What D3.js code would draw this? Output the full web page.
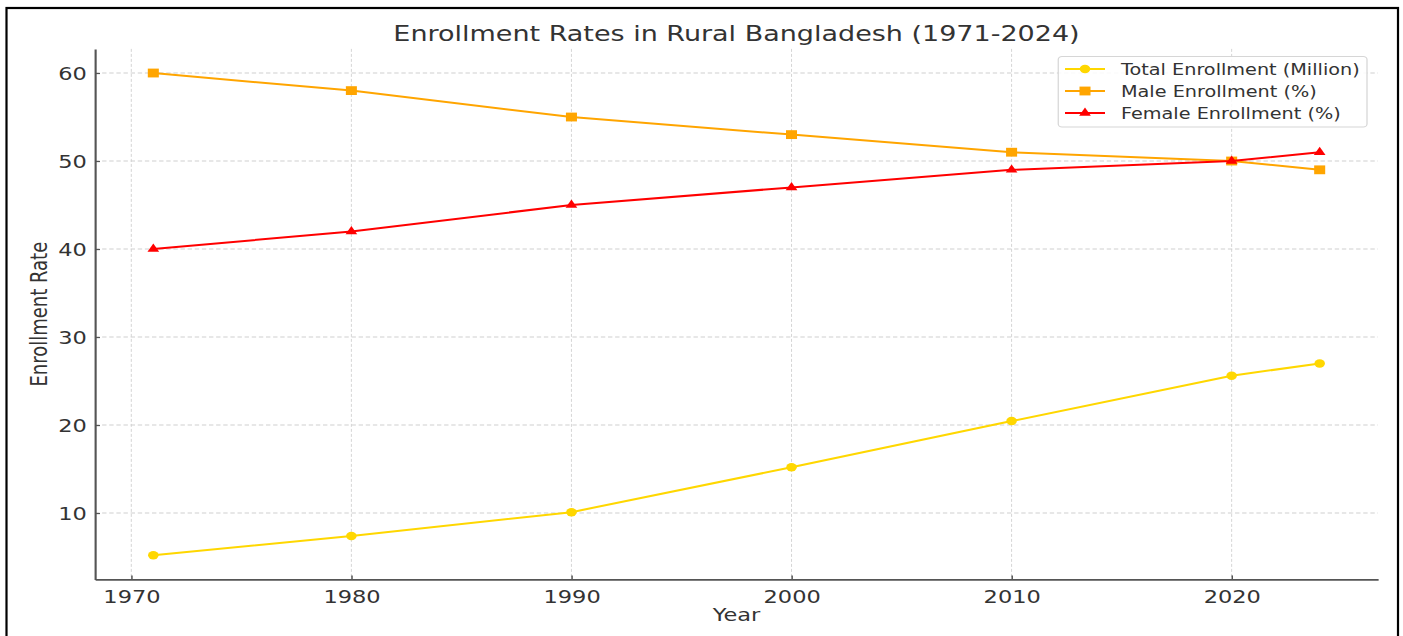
<!DOCTYPE html>
<html><head><meta charset="utf-8">
<script src="https://cdn.jsdelivr.net/npm/d3@7"></script>
<style>
body{margin:0;background:#fff}
svg text{font-family:"DejaVu Sans",sans-serif;fill:#333}
</style>
</head><body>
<svg id="c" width="1403" height="636"></svg>
<script>
// ---- data ----
const years = [1971, 1980, 1990, 2000, 2010, 2020, 2024];
const totalEnrollment = [5.2, 7.4, 10.1, 15.2, 20.45, 25.6, 27.0];
const maleEnrollment = [60, 58, 55, 53, 51, 50, 49];
const femaleEnrollment = [40, 42, 45, 47, 49, 50, 51];
const xTickValues = [1970, 1980, 1990, 2000, 2010, 2020];
const yTickValues = [10, 20, 30, 40, 50, 60];
const seriesNames = ["Total Enrollment (Million)", "Male Enrollment (%)", "Female Enrollment (%)"];
const chartTitle = "Enrollment Rates in Rural Bangladesh (1971-2024)";
const xLabel = "Year";
const yLabel = "Enrollment Rate";

// ---- layout ----
const W = 1403, H = 636;
const SX = 1.25; // horizontal stretch of the reference image
const IW = W / SX;
const m = {left: 76, right: IW - 1102.4, top: 48.9, bottom: H - 579.4};

const series = [
  {name: seriesNames[0], values: totalEnrollment, color: "#FFD700", symbol: d3.symbolCircle, size: 56},
  {name: seriesNames[1], values: maleEnrollment, color: "#FFA500", symbol: d3.symbolSquare, size: 78},
  {name: seriesNames[2], values: femaleEnrollment, color: "#FF0000", symbol: d3.symbolTriangle, size: 38}
];

const svg = d3.select("#c");
svg.append("rect").attr("width", W).attr("height", H).attr("fill", "#fff");

const g = svg.append("g").attr("transform", `scale(${SX},1)`);

const xExt = d3.extent(years);
const xPad = (xExt[1] - xExt[0]) * 0.05;
const allY = totalEnrollment.concat(maleEnrollment, femaleEnrollment);
const yExt = d3.extent(allY);
const yPad = (yExt[1] - yExt[0]) * 0.05;

const x = d3.scaleLinear().domain([xExt[0] - xPad, xExt[1] + xPad]).range([m.left, IW - m.right]);
const y = d3.scaleLinear().domain([yExt[0] - yPad, yExt[1] + yPad]).range([H - m.bottom, m.top]);

// grid
const grid = g.append("g");
grid.selectAll("line.gx").data(xTickValues).join("line")
  .attr("x1", d => x(d)).attr("x2", d => x(d))
  .attr("y1", y.range()[1]).attr("y2", y.range()[0])
  .attr("stroke", "#d0d0d0").attr("stroke-width", 0.8).attr("stroke-dasharray", "3,2");
grid.selectAll("line.gy").data(yTickValues).join("line")
  .attr("x1", x.range()[0]).attr("x2", x.range()[1])
  .attr("y1", d => y(d)).attr("y2", d => y(d))
  .attr("stroke", "#d0d0d0").attr("stroke-width", 1).attr("stroke-dasharray", "3.5,2.2");

// axes
const xAxis = g.append("g").attr("transform", `translate(0,${y.range()[0]})`)
  .call(d3.axisBottom(x).tickValues(xTickValues).tickFormat(d3.format("d")).tickSizeInner(-4).tickSizeOuter(0).tickPadding(8));
const yAxis = g.append("g").attr("transform", `translate(${x.range()[0]},0)`)
  .call(d3.axisLeft(y).tickValues(yTickValues).tickSizeInner(-4).tickSizeOuter(0).tickPadding(6.5));
[xAxis, yAxis].forEach(a => {
  a.select(".domain").attr("stroke", "#555").attr("stroke-width", 1.7);
  a.selectAll(".tick line").attr("stroke", "#555").attr("stroke-width", 1.2);
  a.selectAll(".tick text").attr("fill", "#333").style("font-size", "18px").attr("font-family", null);
});
xAxis.selectAll(".tick text").attr("dy", "0.85em");
yAxis.selectAll(".tick text").attr("dy", "0.36em");

// lines & markers
const line = d3.line().x((d, i) => x(years[i])).y(d => y(d));
series.forEach(s => {
  g.append("path").datum(s.values).attr("d", line)
    .attr("fill", "none").attr("stroke", s.color).attr("stroke-width", 2);
  g.selectAll(null).data(s.values).join("path")
    .attr("transform", (d, i) => `translate(${x(years[i])},${y(d)})`)
    .attr("d", d3.symbol().type(s.symbol).size(s.size))
    .attr("fill", s.color);
});

// titles
g.append("text").attr("x", (x.range()[0] + x.range()[1]) / 2).attr("y", 41)
  .attr("text-anchor", "middle").style("font-size", "21.6px").text(chartTitle);
g.append("text").attr("x", (x.range()[0] + x.range()[1]) / 2).attr("y", 621)
  .attr("text-anchor", "middle").style("font-size", "18px").text(xLabel);
g.append("text").attr("transform", `translate(37.4,${(y.range()[0] + y.range()[1]) / 2}) rotate(-90)`)
  .attr("text-anchor", "middle").style("font-size", "18px").text(yLabel);

// legend
const lg = g.append("g");
lg.append("rect").attr("x", 846.6).attr("y", 56.5).attr("width", 247).attr("height", 70.5)
  .attr("rx", 3).attr("fill", "#fff").attr("fill-opacity", 0.85).attr("stroke", "#d6d6d6").attr("stroke-width", 1);
series.forEach((s, i) => {
  const ry = 69 + i * 22;
  lg.append("line").attr("x1", 852).attr("x2", 884).attr("y1", ry).attr("y2", ry)
    .attr("stroke", s.color).attr("stroke-width", 2);
  lg.append("path").attr("transform", `translate(868,${ry})`)
    .attr("d", d3.symbol().type(s.symbol).size(s.size)).attr("fill", s.color);
  lg.append("text").attr("x", 896.8).attr("y", ry).attr("dy", "0.36em")
    .style("font-size", "15.4px").text(s.name);
});

// outer frame
svg.append("rect").attr("x", 6.5).attr("y", 8).attr("width", 1391.5).attr("height", 700)
  .attr("fill", "none").attr("stroke", "#000").attr("stroke-width", 2.2);
</script>
</body></html>
